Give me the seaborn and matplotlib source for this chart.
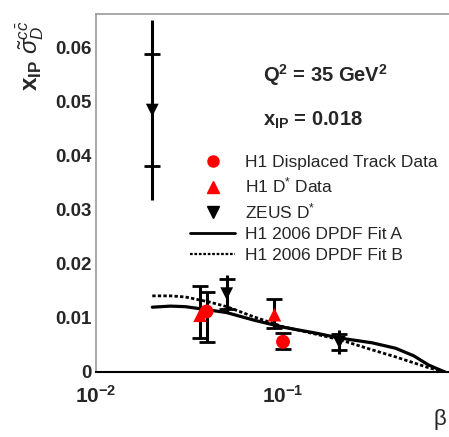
import matplotlib
matplotlib.use("Agg")
import matplotlib.pyplot as plt
import seaborn as sns
import numpy as np
import pandas as pd
from matplotlib.lines import Line2D
from matplotlib.ticker import FixedLocator, NullFormatter

# ---- data ----
zeus_beta = [0.02, 0.05, 0.2]
zeus_val = [0.0485, 0.0145, 0.0055]
zeus_stat = [0.0104, 0.0028, 0.0015]
zeus_tot = [0.0167, 0.0035, 0.0022]

h1dstar_beta = [0.036, 0.09]
h1dstar_val = [0.0105, 0.0106]
h1dstar_lo = [0.0042, 0.0024]
h1dstar_hi = [0.0055, 0.0030]

h1dt_beta = [0.039, 0.1]
h1dt_val = [0.0112, 0.0056]
h1dt_lo = [0.0056, 0.0014]
h1dt_hi = [0.0036, 0.0016]

fit_beta = [0.02, 0.025, 0.03, 0.04, 0.05, 0.07, 0.1, 0.15, 0.2, 0.3, 0.4, 0.5, 0.6, 0.7, 0.735]
fitA = [0.0120, 0.0122, 0.0121, 0.0115, 0.0110, 0.0096, 0.0083, 0.0072, 0.0063, 0.0054, 0.0044, 0.0030, 0.0013, 0.0003, 0.0]
fitB = [0.0141, 0.0141, 0.0139, 0.0130, 0.0121, 0.0102, 0.0084, 0.0070, 0.0060, 0.0041, 0.0028, 0.0017, 0.0008, 0.0002, 0.0]

ytick_vals = [0, 0.01, 0.02, 0.03, 0.04, 0.05, 0.06]
ytick_labels = ["0", "0.01", "0.02", "0.03", "0.04", "0.05", "0.06"]
xtick_vals = [0.01, 0.1]
xtick_labels = [r"$\mathbf{10^{-2}}$", r"$\mathbf{10^{-1}}$"]

sns.set_theme(style="white")
plt.rcParams["font.family"] = ["Liberation Sans", "DejaVu Sans"]
plt.rcParams["mathtext.fontset"] = "custom"
plt.rcParams["mathtext.rm"] = "Liberation Sans"
plt.rcParams["mathtext.it"] = "Liberation Sans:italic"
plt.rcParams["mathtext.bf"] = "Liberation Sans:bold"

W, H = 449, 437
fig = plt.figure(figsize=(W / 100, H / 100), dpi=100)
ax = fig.add_axes([96 / W, 1 - 372 / H, (W - 96) / W, (372 - 14) / H])

df = pd.DataFrame({"beta": fit_beta * 2, "val": fitA + fitB,
                   "fit": ["A"] * len(fit_beta) + ["B"] * len(fit_beta)})
sns.lineplot(data=df[df.fit == "A"], x="beta", y="val", color="black", lw=2.3, ax=ax, legend=False)
sns.lineplot(data=df[df.fit == "B"], x="beta", y="val", color="black", lw=2.0, ls=(0, (1.2, 0.8)), ax=ax, legend=False)

# ZEUS error bars: stat ticks + total line
ax.errorbar(zeus_beta, zeus_val, yerr=zeus_tot, fmt="none", ecolor="black", elinewidth=2.2, capsize=0)
ax.errorbar(zeus_beta, zeus_val, yerr=zeus_stat, fmt="none", ecolor="black", elinewidth=0, capsize=6, capthick=2)
ax.errorbar(h1dstar_beta, h1dstar_val, yerr=[h1dstar_lo, h1dstar_hi], fmt="none", ecolor="black",
            elinewidth=2.2, capsize=6, capthick=2)
ax.errorbar(h1dt_beta, h1dt_val, yerr=[h1dt_lo, h1dt_hi], fmt="none", ecolor="black",
            elinewidth=2.2, capsize=6, capthick=2)

sns.scatterplot(x=zeus_beta, y=zeus_val, marker="v", color="black", s=85, edgecolor="none", ax=ax, zorder=5)
sns.scatterplot(x=h1dstar_beta, y=h1dstar_val, marker="^", color="red", s=95, edgecolor="none", ax=ax, zorder=5)
sns.scatterplot(x=h1dt_beta, y=h1dt_val, marker="o", color="red", s=100, edgecolor="none", ax=ax, zorder=6)

ax.set_xscale("log")
ax.set_xlim(0.01, 10 ** (-2 + (W - 96) / 187))
ax.set_ylim(0, (372 - 14) / 5400)
ax.set_xlabel("")
ax.set_ylabel("")

ax.yaxis.set_major_locator(FixedLocator(ytick_vals))
ax.set_yticklabels(ytick_labels, fontsize=13.5, fontweight="bold")
ax.yaxis.set_minor_locator(FixedLocator(np.arange(0, 0.066, 0.002)))
ax.xaxis.set_major_locator(FixedLocator(xtick_vals))
ax.set_xticklabels(xtick_labels, fontsize=15)
ax.xaxis.set_minor_locator(FixedLocator([0.02, 0.03, 0.04, 0.05, 0.06, 0.07, 0.08, 0.09,
                                         0.2, 0.3, 0.4, 0.5, 0.6, 0.7]))
ax.xaxis.set_minor_formatter(NullFormatter())
ax.tick_params(axis="both", which="major", direction="in", length=11, width=1, color="#888888", pad=3)
ax.tick_params(axis="both", which="minor", direction="in", length=5.5, width=1, color="#888888")
ax.tick_params(axis="x", which="major", pad=9)

for s in ["left", "top"]:
    ax.spines[s].set_color("#999999")
    ax.spines[s].set_linewidth(1.2)
ax.spines["right"].set_visible(False)
ax.spines["bottom"].set_color("black")
ax.spines["bottom"].set_linewidth(1.5)

# texts
fig.text(263 / W, 1 - 75 / H, r"$\mathbf{Q^2}$ = 35 GeV$\mathbf{^2}$", fontsize=14.5, fontweight="bold",
         ha="left", va="center")
fig.text(263 / W, 1 - 120 / H, r"$\mathbf{x_{IP}}$ = 0.018", fontsize=14.5, fontweight="bold",
         ha="left", va="center")
fig.text(30 / W, 1 - 56 / H, r"$\mathbf{x_{IP}}\ \tilde{\sigma}_{D}^{c\bar{c}}$", fontsize=17.5,
         rotation=90, ha="center", va="center")
fig.text(440 / W, 1 - 420 / H, "β", fontsize=16, ha="center", va="center")

handles = [
    Line2D([], [], ls="none", marker="o", color="red", markersize=8),
    Line2D([], [], ls="none", marker="^", color="red", markersize=8),
    Line2D([], [], ls="none", marker="v", color="black", markersize=8),
    Line2D([], [], color="black", lw=2),
    Line2D([], [], color="black", lw=1.6, ls=(0, (1.2, 0.8))),
]
labels = ["H1 Displaced Track Data", r"H1 D$^{*}$ Data", r"ZEUS D$^{*}$",
          "H1 2006 DPDF Fit A", "H1 2006 DPDF Fit B"]
leg = ax.legend(handles, labels, loc="upper left", bbox_to_anchor=(190 / W, 1 - 155 / H),
                bbox_transform=fig.transFigure, frameon=False, fontsize=12.5, handlelength=2.6,
                handletextpad=0.55, labelspacing=0.33, borderpad=0, borderaxespad=0)

fig.savefig("out.png", dpi=100)
